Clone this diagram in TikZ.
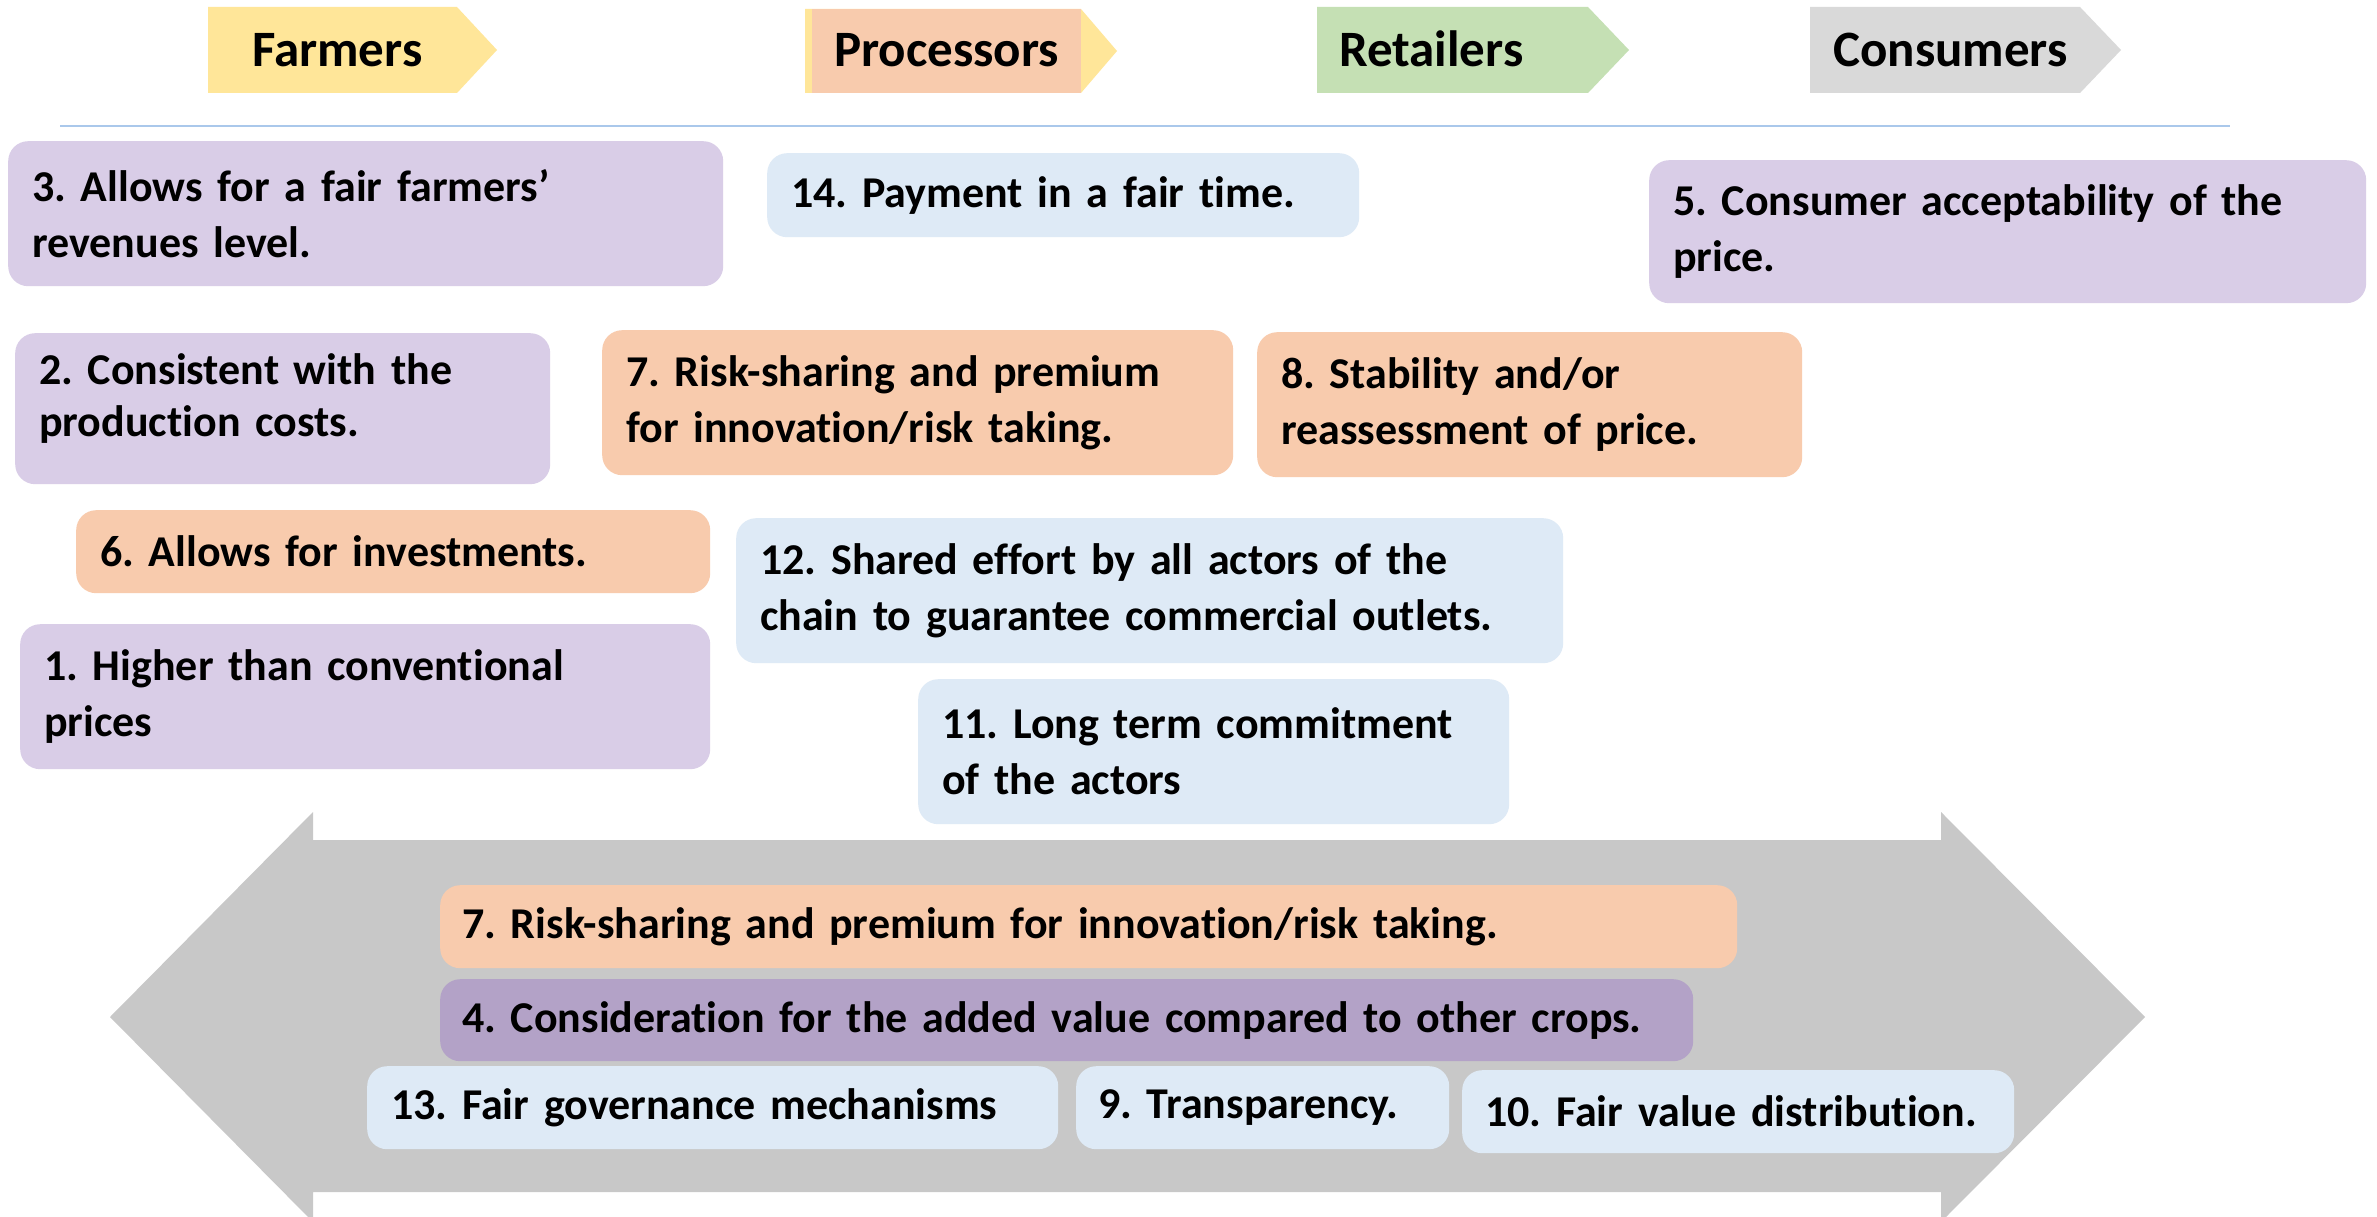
\documentclass[tikz,border=0pt]{standalone}
\usepackage{fontspec}
\setmainfont{Carlito}[Ligatures=NoCommon]
\frenchspacing
\definecolor{lav}{RGB}{217,205,231}
\definecolor{org}{RGB}{248,203,173}
\definecolor{blu}{RGB}{222,234,246}
\definecolor{pur}{RGB}{179,162,199}
\definecolor{yel}{RGB}{255,230,153}
\definecolor{grn}{RGB}{197,224,180}
\definecolor{gry}{RGB}{217,217,217}
\definecolor{arrg}{RGB}{200,200,200}
\definecolor{sep}{RGB}{170,200,235}
\begin{document}
\begin{tikzpicture}[x=1pt,y=-1pt,
  pbox/.style={rounded corners=20pt, anchor=north west, inner xsep=24pt, inner ysep=0pt,
    align=left, font=\bfseries\fontsize{44}{56}\selectfont},
  hdr/.style={anchor=base west, inner sep=0pt, font=\bfseries\fontsize{51}{60}\selectfont}]
\useasboundingbox (0,0) rectangle (2377,1217);
\clip (0,0) rectangle (2377,1217);
\fill[white] (0,0) rectangle (2377,1217);

% header chevrons
\fill[yel] (208,7) -- (457,7) -- (497,50) -- (457,93) -- (208,93) -- cycle;
\node[hdr] (farmers) at (252,67) {Farmers};
\fill[yel] (805,9) -- (1081,9) -- (1117,51) -- (1081,93) -- (805,93) -- cycle;
\fill[org] (812,9) rectangle (1081,93);
\node[hdr] (processors) at (834,67) {Processors};
\fill[grn] (1317,7) -- (1588,7) -- (1629,50) -- (1588,93) -- (1317,93) -- cycle;
\node[hdr] (retailers) at (1339,67) {Retailers};
\fill[gry] (1810,7) -- (2080,7) -- (2121,50) -- (2080,93) -- (1810,93) -- cycle;
\node[hdr] (consumers) at (1833,67) {Consumers};

\draw[sep, line width=2pt] (60,126) -- (2230,126);

% big double arrow
\fill[arrg] (110,1017) -- (313,812) -- (313,840) -- (1941,840) -- (1941,812) -- (2145,1017)
  -- (1941,1222) -- (1941,1192) -- (313,1192) -- (313,1222) -- cycle;

% upper boxes
\node[pbox, fill=lav, minimum height=145pt, text width=667pt] (b3) at (8,141)
  {3. Allows for a fair farmers’\\revenues level.};
\node[pbox, fill=blu, minimum height=84pt, text width=544pt] (b14) at (767,153)
  {14. Payment in a fair time.};
\node[pbox, fill=lav, minimum height=143pt, text width=669pt] (b5) at (1649,160)
  {5. Consumer acceptability of the\\price.};
\node[pbox, fill=lav, minimum height=151pt, text width=487pt] (b2) at (15,333)
  {2. Consistent with the\\[-4pt]production costs.\\[-28pt]\mbox{}};
\node[pbox, fill=org, minimum height=145pt, text width=583pt] (b7a) at (602,330)
  {7. Risk-sharing and premium\\for innovation/risk taking.};
\node[pbox, fill=org, minimum height=145pt, text width=497pt] (b8) at (1257,332)
  {8. Stability and/or\\reassessment of price.};
\node[pbox, fill=org, minimum height=83pt, text width=586pt] (b6) at (76,510)
  {6. Allows for investments.};
\node[pbox, fill=blu, minimum height=145pt, text width=779pt] (b12) at (736,518)
  {12. Shared effort by all actors of the\\chain to guarantee commercial outlets.};
\node[pbox, fill=lav, minimum height=145pt, text width=642pt] (b1) at (20,624)
  {1. Higher than conventional\\prices};
\node[pbox, fill=blu, minimum height=145pt, text width=543pt] (b11) at (918,679)
  {11. Long term commitment\\of the actors};

% boxes on the arrow
\node[pbox, fill=org, minimum height=83pt, text width=1253pt, inner xsep=22pt] (b7b) at (440,885)
  {7. Risk-sharing and premium for innovation/risk taking.};
\node[pbox, fill=pur, minimum height=82pt, text width=1209pt, inner xsep=22pt] (b4) at (440,979)
  {4. Consideration for the added value compared to other crops.};
\node[pbox, fill=blu, minimum height=83pt, text width=643pt] (b13) at (367,1066)
  {13. Fair governance mechanisms};
\node[pbox, fill=blu, minimum height=83pt, text width=329pt, inner xsep=22pt] (b9) at (1076,1066)
  {9. Transparency.};
\node[pbox, fill=blu, minimum height=83pt, text width=506pt, inner xsep=23pt] (b10) at (1462,1070)
  {10. Fair value distribution.};
\end{tikzpicture}
\end{document}
